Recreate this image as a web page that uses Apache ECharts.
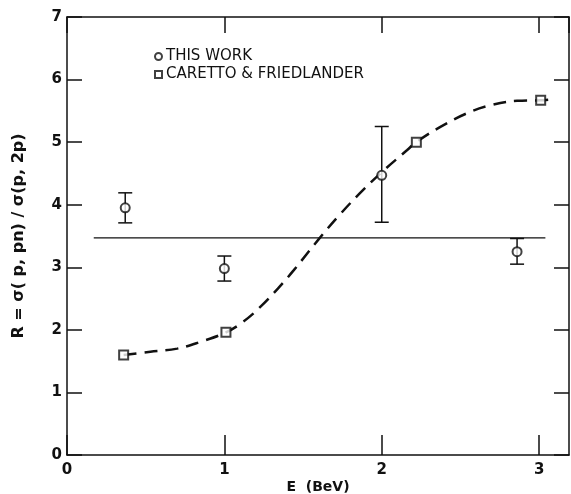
<!DOCTYPE html>
<html>
<head>
<meta charset="utf-8">
<script src="https://cdn.jsdelivr.net/npm/echarts@6/dist/echarts.min.js"></script>
<style>html,body{margin:0;padding:0;background:#fff}#c{width:571px;height:494px}</style>
</head>
<body>
<div id="c"></div>
<script>
// ---- data ----
var xTicks = [0, 1, 2, 3];
var yTicks = [0, 1, 2, 3, 4, 5, 6, 7];

var thisWorkE = [0.37, 1.00, 2.00, 2.86];
var thisWorkR = [3.95, 2.98, 4.47, 3.25];
var thisWorkLow = [3.71, 2.78, 3.72, 3.05];
var thisWorkHigh = [4.19, 3.18, 5.25, 3.46];

var carettoE = [0.36, 1.01, 2.22, 3.01];
var carettoR = [1.60, 1.96, 5.00, 5.67];

var curveE = [0.36, 0.53, 0.70, 0.85, 1.01, 1.12, 1.23, 1.34, 1.44, 1.60, 1.74, 1.86, 2.00, 2.16, 2.22, 2.37, 2.54, 2.69, 2.86, 3.01, 3.06];
var curveR = [1.60, 1.65, 1.70, 1.81, 1.96, 2.13, 2.37, 2.66, 2.95, 3.45, 3.86, 4.18, 4.52, 4.87, 5.00, 5.24, 5.46, 5.59, 5.66, 5.67, 5.68];

var flatE = [0.17, 3.04];
var flatR = [3.47, 3.47];

function zip(a, b) { return a.map(function (v, i) { return [v, b[i]]; }); }

var chart = echarts.init(document.getElementById('c'), null, {renderer: 'canvas'});
var ink = '#111';
var font = 'DejaVu Sans';

function axisLine() { return {show: true, onZero: false, lineStyle: {color: ink, width: 1.5}}; }

var option = {
  backgroundColor: '#fff',
  animation: false,
  grid: {left: 67, right: 2, top: 17, bottom: 39, containLabel: false, outerBoundsMode: 'none'},
  legend: {
    orient: 'vertical',
    left: 149, top: 44,
    itemWidth: 7, itemHeight: 7, itemGap: 3,
    textStyle: {fontFamily: font, fontSize: 15, color: ink, padding: [0, 0, 0, -1]},
    data: ['THIS WORK', 'CARETTO & FRIEDLANDER']
  },
  xAxis: [{
    type: 'value', min: 0, max: 3.19, interval: 1,
    name: 'E  (BeV)', nameLocation: 'middle', nameGap: 25, nameMoveOverlap: false,
    nameTextStyle: {fontFamily: font, fontSize: 14, fontWeight: 'bold', color: ink, verticalAlign: 'top'},
    axisLine: axisLine(),
    axisTick: {show: true, inside: true, length: 20, lineStyle: {color: ink, width: 1.5}},
    axisLabel: {show: true, margin: 8, fontFamily: font, fontSize: 15, fontWeight: 'bold', color: ink,
      showMaxLabel: false,
      formatter: function (v) { return xTicks.indexOf(v) >= 0 ? String(v) : ''; }},
    splitLine: {show: false}
  }, {
    type: 'value', position: 'top', min: 0, max: 3.19, interval: 1,
    axisLine: axisLine(),
    axisTick: {show: true, inside: true, length: 16, lineStyle: {color: ink, width: 1.5}},
    axisLabel: {show: false}, splitLine: {show: false}
  }],
  yAxis: [{
    type: 'value', min: 0, max: 7, interval: 1,
    name: 'R = σ( p, pn) / σ(p, 2p)', nameLocation: 'middle', nameGap: 40, nameRotate: 90,
    nameTextStyle: {fontFamily: font, fontSize: 16, fontWeight: 'bold', color: ink},
    axisLine: axisLine(),
    axisTick: {show: true, inside: true, length: 15, lineStyle: {color: ink, width: 1.5}},
    axisLabel: {show: true, margin: 5, fontFamily: font, fontSize: 15, fontWeight: 'bold', color: ink,
      formatter: function (v) { return yTicks.indexOf(v) >= 0 ? String(v) : ''; }},
    splitLine: {show: false}
  }, {
    type: 'value', position: 'right', min: 0, max: 7, interval: 1,
    axisLine: axisLine(),
    axisTick: {show: true, inside: true, length: 15, lineStyle: {color: ink, width: 1.5}},
    axisLabel: {show: false}, splitLine: {show: false}
  }],
  series: [
    {
      name: 'flat', type: 'line', data: zip(flatE, flatR), symbol: 'none',
      lineStyle: {color: ink, width: 1.3}, silent: true, z: 2
    },
    {
      name: 'curve', type: 'line', data: zip(curveE, curveR), symbol: 'none', smooth: 0.4,
      lineStyle: {color: ink, width: 2.5, type: [13, 8]}, silent: true, z: 2
    },
    {
      name: 'errors', type: 'custom',
      data: thisWorkE.map(function (e, i) { return [e, thisWorkLow[i], thisWorkHigh[i]]; }),
      renderItem: function (params, api) {
        var lo = api.coord([api.value(0), api.value(1)]);
        var hi = api.coord([api.value(0), api.value(2)]);
        var w = 7;
        var st = {stroke: ink, lineWidth: 1.5};
        return {type: 'group', children: [
          {type: 'line', shape: {x1: lo[0], y1: lo[1], x2: hi[0], y2: hi[1]}, style: st},
          {type: 'line', shape: {x1: lo[0] - w, y1: lo[1], x2: lo[0] + w, y2: lo[1]}, style: st},
          {type: 'line', shape: {x1: hi[0] - w, y1: hi[1], x2: hi[0] + w, y2: hi[1]}, style: st}
        ]};
      },
      z: 3
    },
    {
      name: 'THIS WORK', type: 'scatter', data: zip(thisWorkE, thisWorkR),
      symbol: 'emptyCircle', symbolSize: 9,
      itemStyle: {color: ink, borderWidth: 1.6}, z: 5
    },
    {
      name: 'CARETTO & FRIEDLANDER', type: 'scatter', data: zip(carettoE, carettoR),
      symbol: 'emptyRect', symbolSize: 9,
      itemStyle: {color: ink, borderWidth: 1.6}, z: 5
    }
  ]
};
chart.setOption(option);
</script>
</body>
</html>
